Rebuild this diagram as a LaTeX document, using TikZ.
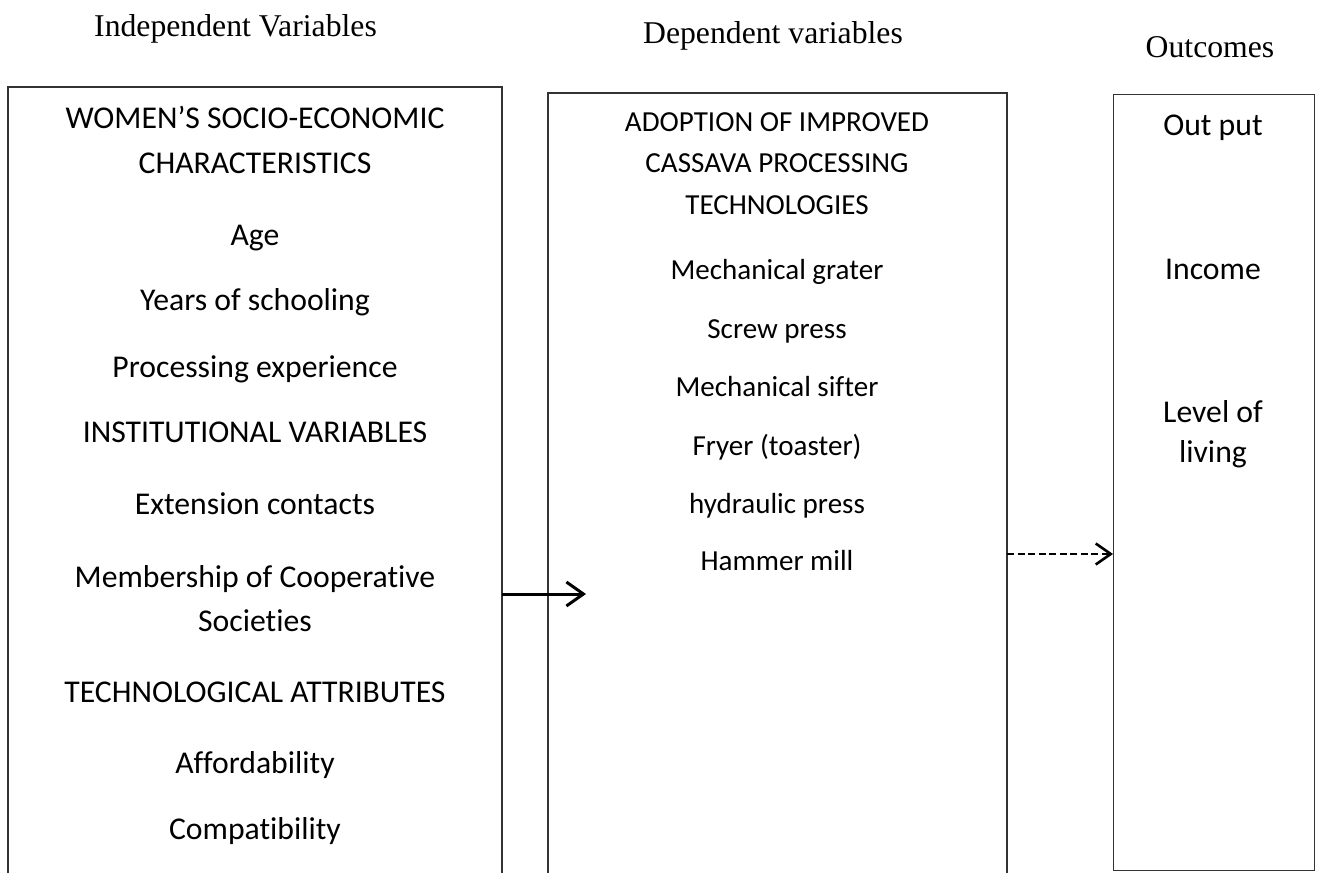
\documentclass[tikz,border=0pt]{standalone}
\usepackage{fontspec}
\setmainfont{Liberation Serif}
\newfontfamily\carlito[Ligatures=NoCommon]{Carlito}
\usetikzlibrary{arrows.meta}
\begin{document}
\begin{tikzpicture}[x=1pt,y=-1pt,
  hdr/.style={font=\fontsize{31.7}{38}\selectfont, anchor=base, inner sep=0pt},
  lt/.style={font=\carlito\fontsize{31.7}{38}\selectfont, anchor=base, inner sep=0pt},
  mt/.style={font=\carlito\fontsize{29.05}{35}\selectfont, anchor=base, inner sep=0pt},
  boxline/.style={line width=1.3pt, draw=black!80},
  solidarrow/.style={line width=3pt, -{Straight Barb[length=17pt,width=24pt]}},
  dasharrow/.style={line width=2.6pt, dash pattern=on 7pt off 3.5pt, -{Straight Barb[length=15pt,width=21pt]}}
]
\useasboundingbox (0,0) rectangle (1318,873);

% headers
\node[hdr] (hInd) at (235.5,36) {Independent Variables};
\node[hdr] (hDep) at (773,43) {Dependent variables};
\node[hdr] (hOut) at (1210,57) {Outcomes};

% boxes
\draw[boxline] (8,880) -- (8,87) -- (502,87) -- (502,880);
\draw[boxline] (548,880) -- (548,93) -- (1007,93) -- (1007,880);
\node[boxline, draw, rectangle, minimum width=201pt, minimum height=776pt, inner sep=0pt, anchor=north west] (outbox) at (1113,94) {};

% left box texts
\node[lt] (l1) at (255,128) {WOMEN’S SOCIO-ECONOMIC};
\node[lt] (l2) at (255,173) {CHARACTERISTICS};
\node[lt] (l3) at (255,245) {Age};
\node[lt] (l4) at (255,310) {Years of schooling};
\node[lt] (l5) at (255,377) {Processing experience};
\node[lt] (l6) at (255,442) {INSTITUTIONAL VARIABLES};
\node[lt] (l7) at (255,514) {Extension contacts};
\node[lt] (l8) at (255,587) {Membership of Cooperative};
\node[lt] (l9) at (255,631) {Societies};
\node[lt] (l10) at (255,702) {TECHNOLOGICAL ATTRIBUTES};
\node[lt] (l11) at (255,773) {Affordability};
\node[lt] (l12) at (255,839) {Compatibility};

% middle box texts
\node[mt] (m1) at (777,131) {ADOPTION OF IMPROVED};
\node[mt] (m2) at (777,172) {CASSAVA PROCESSING};
\node[mt] (m3) at (777,214) {TECHNOLOGIES};
\node[mt] (m4) at (777,279) {Mechanical grater};
\node[mt] (m5) at (777,338) {Screw press};
\node[mt] (m6) at (777,396) {Mechanical sifter};
\node[mt] (m7) at (777,455) {Fryer (toaster)};
\node[mt] (m8) at (777,513) {hydraulic press};
\node[mt] (m9) at (777,570) {Hammer mill};

% right box texts
\node[lt] (r1) at (1213,135) {Out put};
\node[lt] (r2) at (1213,279) {Income};
\node[lt] (r3) at (1213,422) {Level of};
\node[lt] (r4) at (1213,462) {living};

% connectors
\coordinate (leftR) at (502,594);
\coordinate (midTip) at (586,594);
\coordinate (midR) at (1007,554);
\draw[solidarrow] (leftR) -- (midTip);
\draw[dasharrow] (midR) -- (outbox.west |- midR);
\end{tikzpicture}
\end{document}
